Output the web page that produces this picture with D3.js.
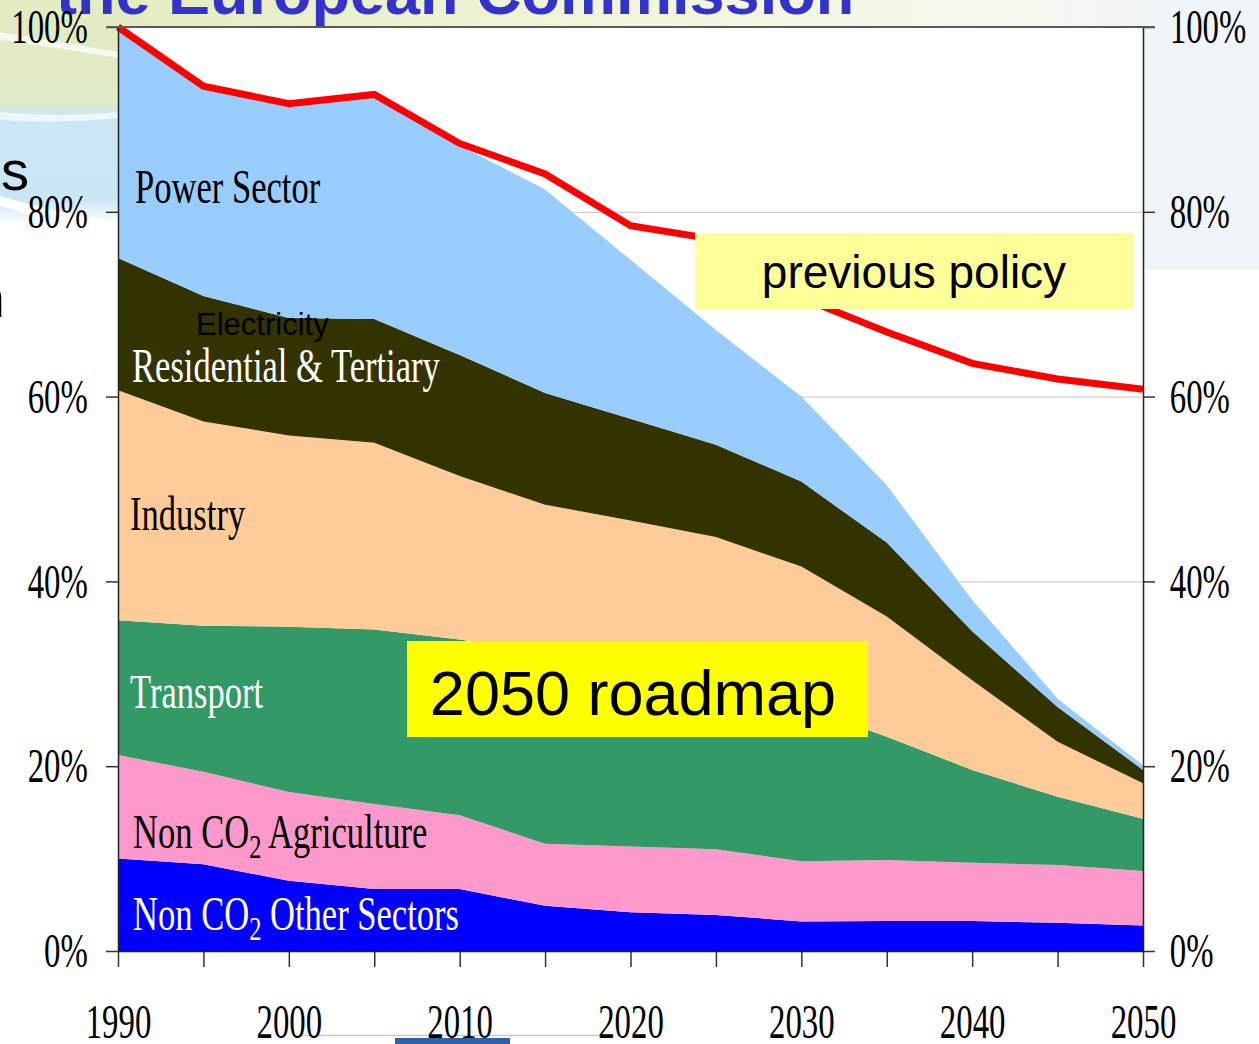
<!DOCTYPE html>
<html>
<head>
<meta charset="utf-8">
<script src="https://cdn.jsdelivr.net/npm/d3@7"></script>
<style>
  body { margin: 0; background: #fff; }
  svg { display: block; }
</style>
</head>
<body>
<div id="chart"></div>
<script>
var years = [1990, 1995, 2000, 2005, 2010, 2015, 2020, 2025, 2030, 2035, 2040, 2045, 2050];
var tickYears = [1990, 2000, 2010, 2020, 2030, 2040, 2050];
var pctTicks = [0, 20, 40, 60, 80, 100];

// sector shares, % of 1990 emissions (stacked bottom -> top)
var otherSectors = [10.0, 9.4, 7.6, 6.7, 6.7, 4.9, 4.2, 3.9, 3.2, 3.25, 3.25, 3.05, 2.75];
var agriculture  = [11.2, 10.0, 9.6, 9.2, 8.0, 6.7, 7.1, 7.1, 6.5, 6.6, 6.3, 6.25, 5.9];
var transport    = [14.6, 15.8, 17.9, 18.9, 19.0, 20.8, 19.5, 18.0, 16.8, 13.35, 10.05, 7.4, 5.65];
var industry     = [24.9, 22.1, 20.7, 20.2, 17.7, 15.9, 15.8, 15.8, 15.1, 13.0, 9.7, 5.95, 3.85];
var residential  = [14.3, 13.6, 12.7, 13.4, 13.1, 12.1, 11.0, 10.0, 9.2, 8.0, 5.3, 3.75, 1.45];
var power        = [25.0, 22.7, 23.2, 24.3, 22.7, 22.0, 17.2, 12.4, 9.2, 6.2, 3.4, 0.9, 0.5];
var previousPolicy = [100, 93.6, 91.7, 92.7, 87.4, 84.1, 78.5, 77.0, 70.7, 67.0, 63.6, 61.9, 60.8];

var keys = ["other", "agri", "transport", "industry", "residential", "power"];
var color = d3.scaleOrdinal().domain(keys)
    .range(["#0000ff", "#ff99cc", "#339966", "#ffcc99", "#333300", "#99ccff"]);

var table = years.map(function(y, i) {
  return { year: y, other: otherSectors[i], agri: agriculture[i], transport: transport[i],
           industry: industry[i], residential: residential[i], power: power[i] };
});

var W = 1259, H = 1044;
var svg = d3.select("#chart").append("svg").attr("width", W).attr("height", H);

var x = d3.scaleLinear().domain([1990, 2050]).range([118, 1143]);
var y = d3.scaleLinear().domain([0, 100]).range([951, 27]);

// slide background
var defs = svg.append("defs");
var g1 = defs.append("linearGradient").attr("id", "topband").attr("x1", 0).attr("x2", 1).attr("y1", 0).attr("y2", 0);
g1.append("stop").attr("offset", 0).attr("stop-color", "#dfeabb");
g1.append("stop").attr("offset", 0.45).attr("stop-color", "#f2f5d8");
g1.append("stop").attr("offset", 0.8).attr("stop-color", "#f6f8ee");
g1.append("stop").attr("offset", 1).attr("stop-color", "#eef4fa");
var g2 = defs.append("linearGradient").attr("id", "leftband").attr("x1", 0).attr("x2", 0).attr("y1", 0).attr("y2", 1);
g2.append("stop").attr("offset", 0).attr("stop-color", "#e3ecc2");
g2.append("stop").attr("offset", 0.45).attr("stop-color", "#dfebc6");
g2.append("stop").attr("offset", 0.52).attr("stop-color", "#cbe7f4");
g2.append("stop").attr("offset", 0.88).attr("stop-color", "#c8e6f5");
g2.append("stop").attr("offset", 1).attr("stop-color", "#ffffff");

svg.append("rect").attr("x", 0).attr("y", 0).attr("width", W).attr("height", 30).attr("fill", "url(#topband)");
svg.append("rect").attr("x", 0).attr("y", 0).attr("width", 118).attr("height", 225).attr("fill", "url(#leftband)");
svg.append("rect").attr("x", 1144).attr("y", 0).attr("width", 115).attr("height", 270).attr("fill", "#f0f5fa");
svg.append("path").attr("d", "M0,32 Q60,42 118,52 L118,58 Q60,48 0,40 Z").attr("fill", "#f6f9ee");
svg.append("path").attr("d", "M0,112 Q60,118 118,112 L118,118 Q60,124 0,120 Z").attr("fill", "#eef7fb");
svg.append("path").attr("d", "M0,196 Q60,214 118,222 L118,232 Q60,224 0,206 Z").attr("fill", "#ffffff");

svg.append("text").attr("x", 56).attr("y", 14)
    .attr("font-family", "Liberation Sans, Arial").attr("font-weight", "bold")
    .attr("font-size", 63).attr("fill", "#3333cc")
    .text("the European Commission");
svg.append("text").attr("x", 29).attr("y", 190).attr("text-anchor", "end")
    .attr("font-family", "Liberation Sans, Arial").attr("font-size", 56).attr("fill", "#000")
    .text("s");
svg.append("text").attr("x", 5).attr("y", 317).attr("text-anchor", "end")
    .attr("font-family", "Liberation Sans, Arial").attr("font-size", 56).attr("fill", "#000")
    .text("n");
svg.append("line").attr("x1", 293).attr("x2", 614).attr("y1", 1035.5).attr("y2", 1035.5)
    .attr("stroke", "#c8c8c8").attr("stroke-width", 1.5);
svg.append("rect").attr("x", 395).attr("y", 1038).attr("width", 115).attr("height", 6).attr("fill", "#2f62a8");

// plot area
svg.append("rect").attr("x", 118).attr("y", 27).attr("width", 1025).attr("height", 924).attr("fill", "#fff");

svg.selectAll(".grid")
    .data([20, 40, 60, 80])
    .enter()
    .append("line")
    .attr("x1", 118).attr("x2", 1143)
    .attr("y1", function(d) { return y(d) + 0.5; })
    .attr("y2", function(d) { return y(d) + 0.5; })
    .attr("stroke", "#c4c4c4").attr("stroke-width", 1);

var stack = d3.stack().keys(keys);
var series = stack(table);

var area = d3.area()
    .x(function(d) { return x(d.data.year); })
    .y0(function(d) { return y(d[0]); })
    .y1(function(d) { return y(d[1]); });

svg.selectAll(".layer")
    .data(series)
    .enter()
    .append("path")
    .attr("d", area)
    .style("fill", function(d) { return color(d.key); });

var line = d3.line()
    .x(function(d, i) { return x(years[i]); })
    .y(function(d) { return y(d); });

svg.append("path")
    .datum(previousPolicy)
    .attr("d", line)
    .attr("fill", "none")
    .attr("stroke", "#ff0000")
    .attr("stroke-width", 7);

// axes
var serif = "Liberation Serif, Times New Roman, serif";

var leftAxis = svg.append("g").attr("transform", "translate(118,0)")
    .call(d3.axisLeft(y).tickValues(pctTicks).tickSize(12).tickSizeOuter(0).tickPadding(33)
      .tickFormat(function(d) { return d + "%"; }));
var rightAxis = svg.append("g").attr("transform", "translate(1143,0)")
    .call(d3.axisRight(y).tickValues(pctTicks).tickSize(12).tickSizeOuter(0).tickPadding(28)
      .tickFormat(function(d) { return d + "%"; }));
var bottomAxis = svg.append("g").attr("transform", "translate(0,951)")
    .call(d3.axisBottom(x).tickValues(years).tickSize(16).tickSizeOuter(0).tickPadding(36)
      .tickFormat(function(d) { return tickYears.indexOf(d) >= 0 ? d : ""; }));

[leftAxis, rightAxis, bottomAxis].forEach(function(a) {
  a.selectAll("text")
      .attr("font-family", serif)
      .attr("font-size", 49)
      .attr("fill", "#000")
      .attr("transform", "scale(0.67,1)");
  a.selectAll("line").attr("stroke", "#333").attr("stroke-width", 1.5);
  a.select(".domain").attr("stroke", "#222").attr("stroke-width", 1.5);
});

svg.append("line").attr("x1", 106).attr("x2", 1155).attr("y1", 27).attr("y2", 27)
    .attr("stroke", "#5a5a5a").attr("stroke-width", 2);

// annotation boxes
svg.append("rect").attr("x", 695).attr("y", 233).attr("width", 438).attr("height", 76).attr("fill", "#ffff99");
svg.append("text").attr("x", 914).attr("y", 288).attr("text-anchor", "middle")
    .attr("font-family", "Liberation Sans, Arial").attr("font-size", 46).attr("fill", "#000")
    .text("previous policy");

svg.append("rect").attr("x", 407).attr("y", 641).attr("width", 461).attr("height", 96).attr("fill", "#ffff00");
svg.append("text").attr("x", 633).attr("y", 715).attr("text-anchor", "middle")
    .attr("font-family", "Liberation Sans, Arial").attr("font-size", 63).attr("fill", "#000")
    .text("2050 roadmap");

svg.append("text").attr("x", 196).attr("y", 335)
    .attr("font-family", "Liberation Sans, Arial").attr("font-size", 31).attr("fill", "#000")
    .text("Electricity");

// sector labels
var labels = [
  { t: "Power Sector", x: 135, y: 203, c: "#000" },
  { t: "Residential & Tertiary", x: 132, y: 382, c: "#fff" },
  { t: "Industry", x: 130, y: 530, c: "#000" },
  { t: "Transport", x: 130, y: 708, c: "#fff" },
  { t: "Non CO|2| Agriculture", x: 133, y: 848, c: "#000" },
  { t: "Non CO|2| Other Sectors", x: 133, y: 930, c: "#fff" }
];

labels.forEach(function(l) {
  var t = svg.append("text")
      .attr("transform", "translate(" + l.x + "," + l.y + ") scale(0.72,1)")
      .attr("font-family", serif).attr("font-size", 48).attr("fill", l.c);
  var parts = l.t.split("|");
  if (parts.length == 1) { t.text(l.t); return; }
  t.append("tspan").text(parts[0]);
  t.append("tspan").attr("font-size", 34).attr("dy", 10).text(parts[1]);
  t.append("tspan").attr("dy", -10).text(parts[2]);
});
</script>
</body>
</html>
